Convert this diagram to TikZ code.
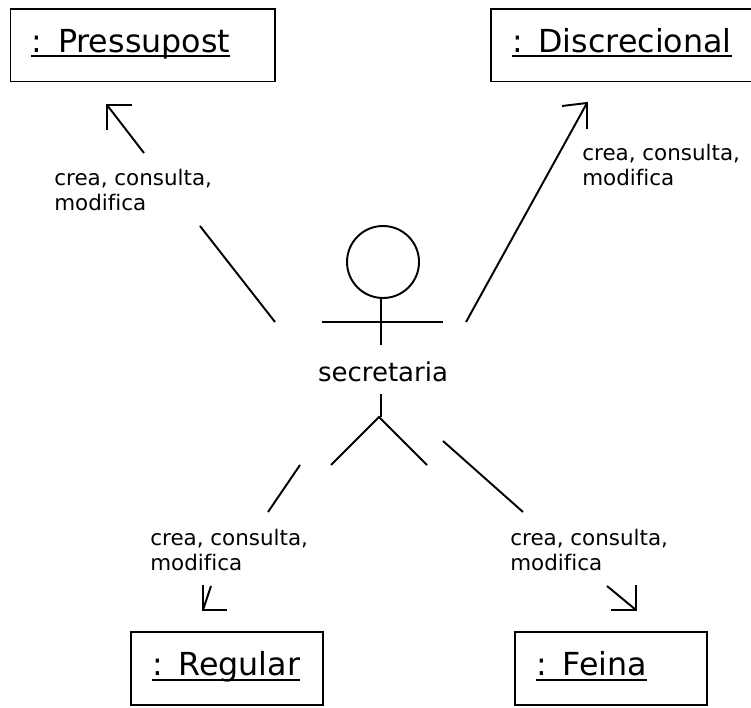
\documentclass[tikz,border=0pt]{standalone}
\usepackage{fontspec}
\setmainfont[Ligatures=NoCommon]{DejaVu Sans}
\newsavebox{\objbox}
\newcommand{\objname}[1]{\leavevmode\sbox{\objbox}{#1}\rlap{\usebox{\objbox}}\smash{\rule[-2.85pt]{\wd\objbox}{1.1pt}}}
\tikzset{
  classbox/.style={draw, line width=1.1pt, inner xsep=0.42cm, inner ysep=0pt, minimum height=1.45cm, text height=0.48cm, text depth=0.2cm, align=left, font=\fontsize{18.05pt}{22pt}\selectfont},
  msg/.style={anchor=north west, inner sep=0pt, align=left, font=\fontsize{12.2pt}{14.2pt}\selectfont},
  link/.style={line width=1.1pt}
}
\begin{document}
\begin{tikzpicture}

\useasboundingbox (0,0) rectangle (15.02,14.14);

\node[classbox, text width=4.45cm] (pressupost) at (2.855,13.235) {\objname{: Pressupost}};
\node[classbox, text width=4.44cm] (discrecional) at (12.46,13.235) {\objname{: Discrecional}};
\node[classbox, text width=3.0cm] (regular) at (4.54,0.77) {\objname{: Regular}};
\node[classbox, text width=3.0cm] (feina) at (12.22,0.77) {\objname{: Feina}};

\node[msg] (m1) at (1.08,10.77) {crea, consulta,\\modifica};
\node[msg] (m2) at (11.64,11.26) {crea, consulta,\\modifica};
\node[msg] (m3) at (3.0,3.57) {crea, consulta,\\modifica};
\node[msg] (m4) at (10.2,3.57) {crea, consulta,\\modifica};

\node[draw, link, circle, inner sep=0pt, minimum size=1.44cm] (head) at (7.66,8.9) {};
\node[font=\fontsize{14.8pt}{17pt}\selectfont, inner sep=0pt] (actor) at (7.66,6.7) {secretaria};

\coordinate (neck) at (7.62,8.18);
\coordinate (waist) at (7.62,7.24);
\coordinate (larm) at (6.44,7.7);
\coordinate (rarm) at (8.86,7.7);
\coordinate (hip) at (7.62,6.26);
\coordinate (crotch) at (7.58,5.8);
\coordinate (lfoot) at (6.62,4.84);
\coordinate (rfoot) at (8.54,4.84);

\draw[link] (neck) -- (waist);
\draw[link] (larm) -- (rarm);
\draw[link] (hip) -- (hip |- crotch);
\draw[link] (lfoot) -- (crotch) -- (rfoot);

\coordinate (p1) at (5.5,7.7);
\coordinate (p2) at (4,9.62);
\coordinate (p3) at (2.88,11.08);
\coordinate (ptip) at (2.14,12.04);
\draw[link] (p1) -- (p2);
\draw[link] (p3) -- (ptip);
\draw[link] (2.14,11.54) -- (ptip) -- (2.64,12.04);

\coordinate (d1) at (9.32,7.7);
\coordinate (dtip) at (11.74,12.08);
\draw[link] (d1) -- (dtip);
\draw[link] (11.24,12.02) -- (dtip) -- (11.74,11.56);

\coordinate (r1) at (6,4.84);
\coordinate (r2) at (5.36,3.9);
\coordinate (r3) at (4.22,2.42);
\coordinate (rtip) at (4.06,1.94);
\draw[link] (r1) -- (r2);
\draw[link] (r3) -- (rtip);
\draw[link] (4.06,2.44) -- (rtip) -- (4.54,1.94);

\coordinate (f1) at (8.86,5.32);
\coordinate (f2) at (10.46,3.9);
\coordinate (f3) at (12.14,2.42);
\coordinate (ftip) at (12.72,1.94);
\draw[link] (f1) -- (f2);
\draw[link] (f3) -- (ftip);
\draw[link] (12.72,2.44) -- (ftip) -- (12.22,1.94);

\end{tikzpicture}
\end{document}
